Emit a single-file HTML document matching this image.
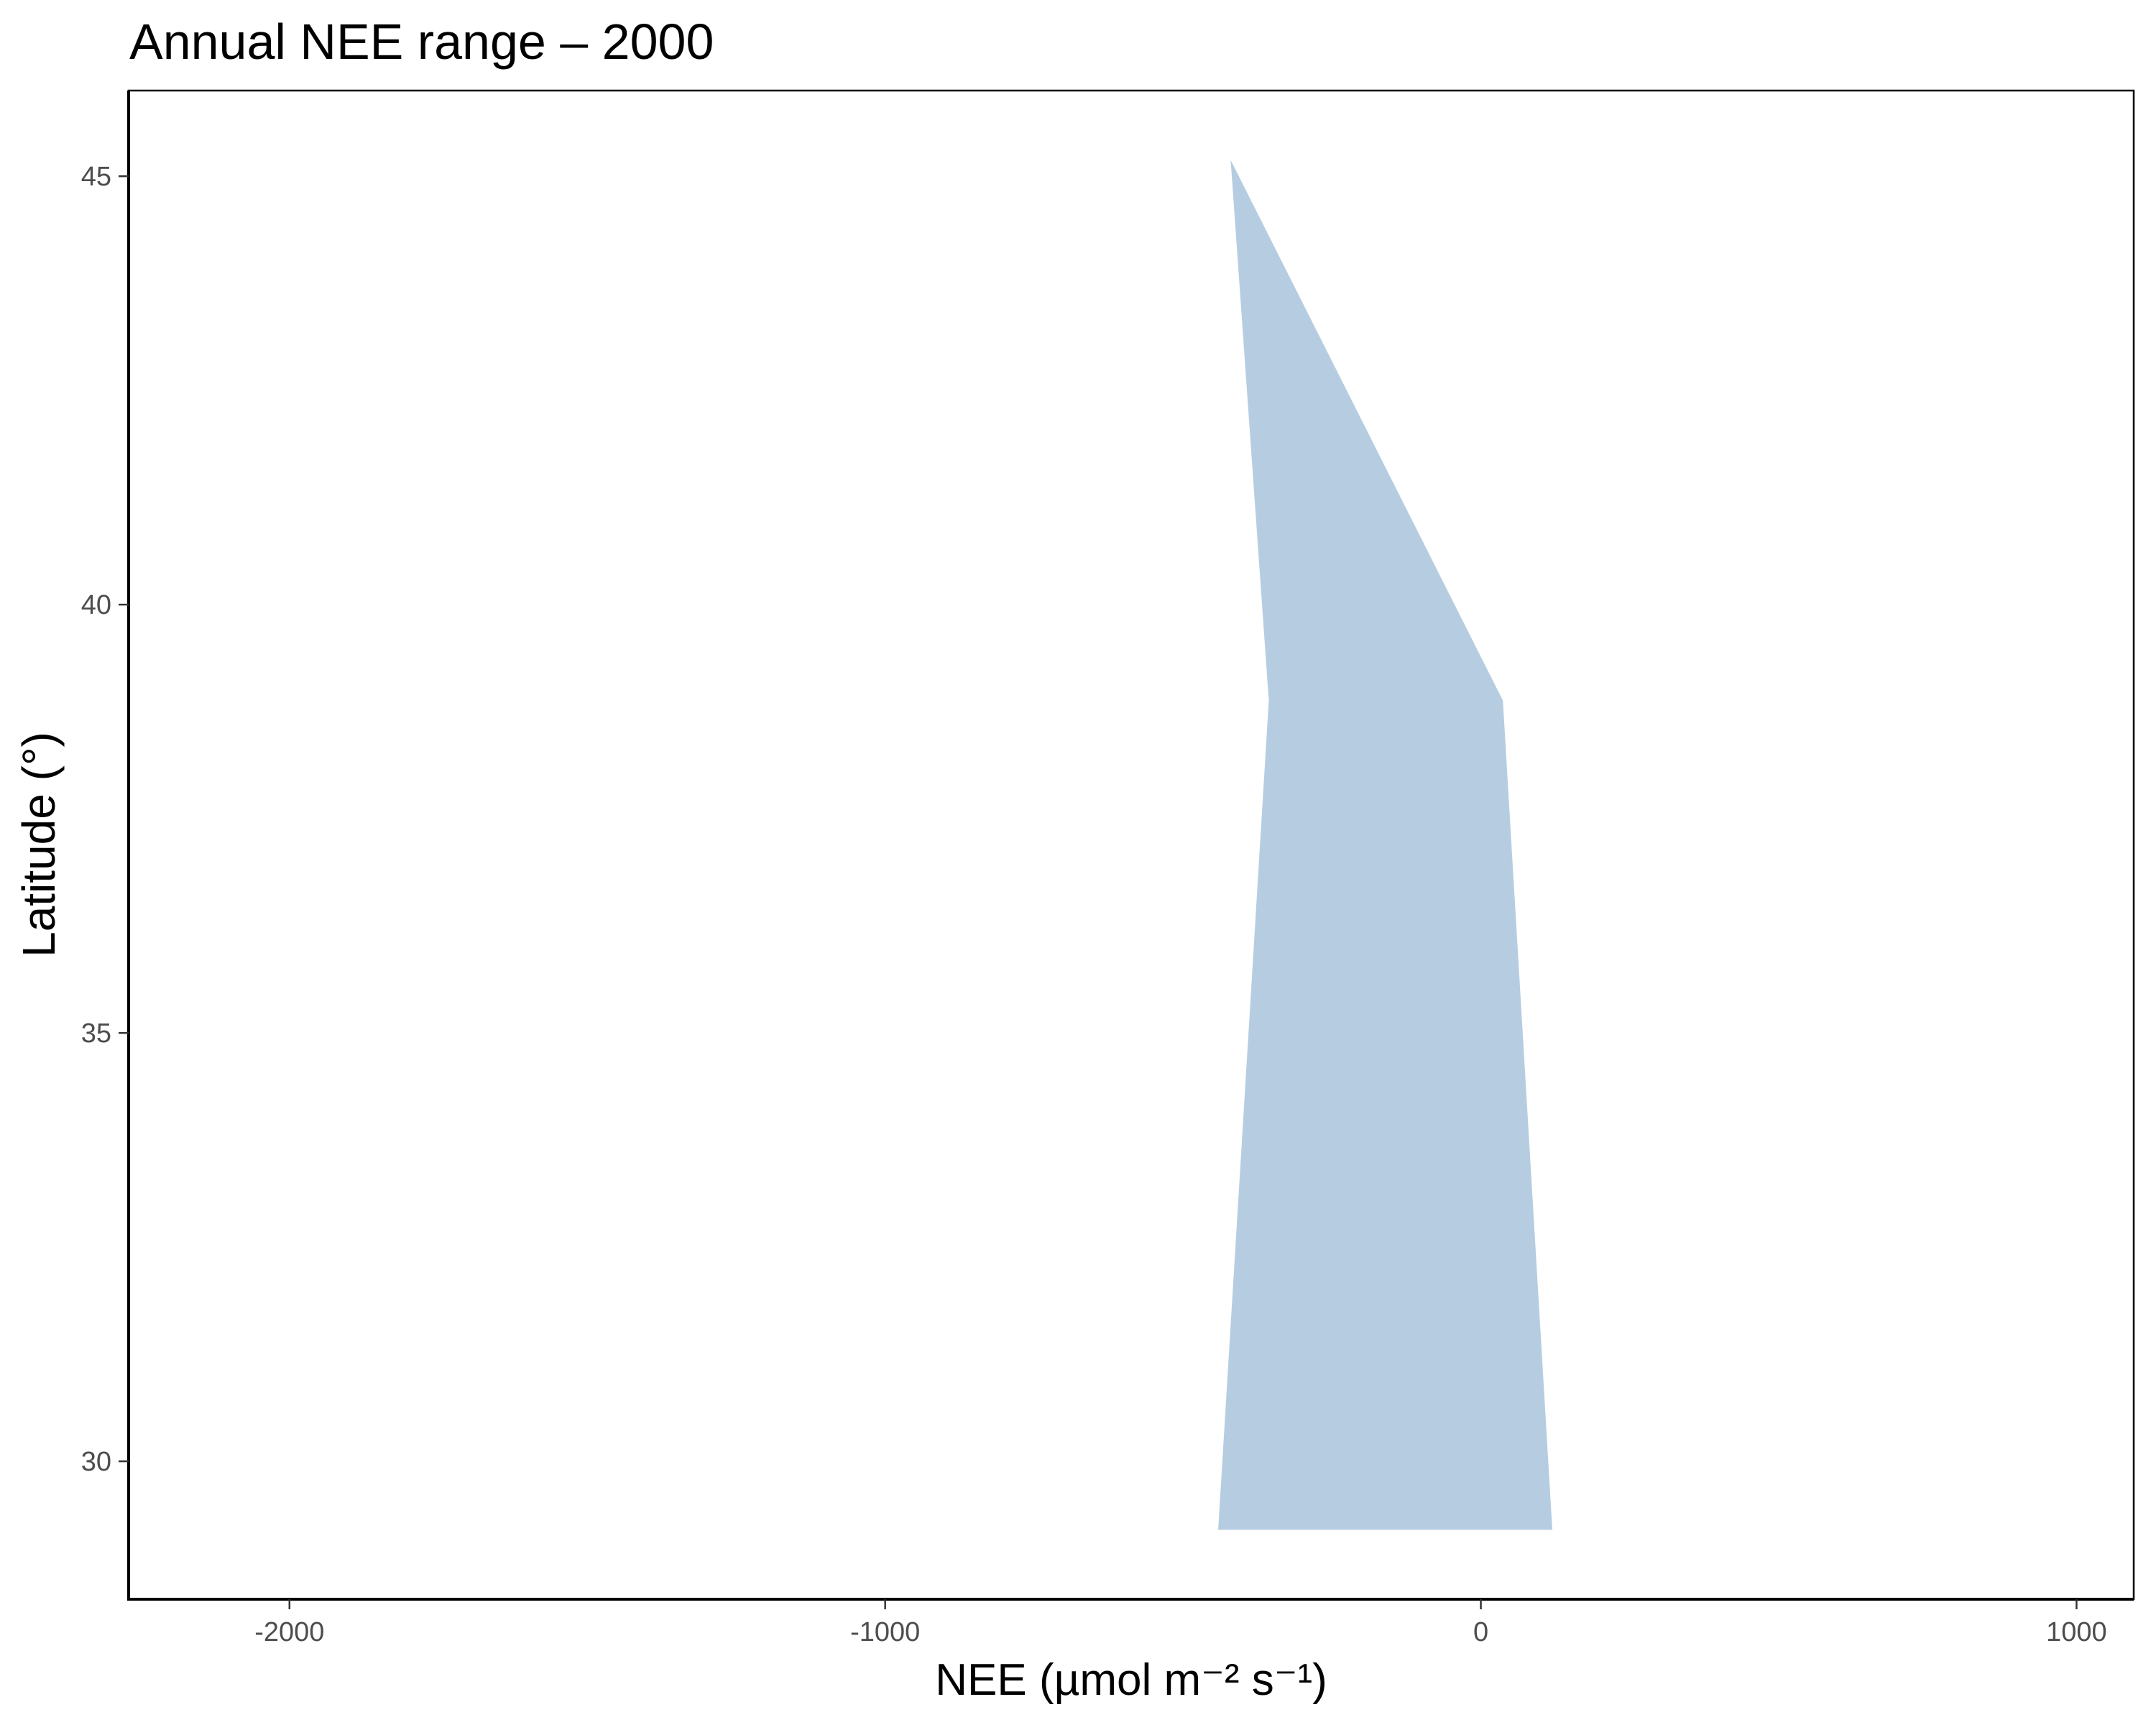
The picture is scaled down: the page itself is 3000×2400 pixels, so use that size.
<!DOCTYPE html>
<html><head><meta charset="utf-8"><style>
html,body{margin:0;padding:0;background:#fff;}
svg{display:block;font-family:"Liberation Sans",Arial,sans-serif;}
</style></head><body>
<svg id="chart" width="3000" height="2400">
<text x="180" y="82" font-size="70" fill="#000">Annual NEE range – 2000</text>
<rect x="179" y="126" width="2790" height="2099" fill="none" stroke="#000" stroke-width="2.5"/>
<g id="marks"></g>
<line x1="179" y1="126" x2="179" y2="2226" stroke="#000" stroke-width="4"/>
<line x1="177" y1="2225" x2="2969" y2="2225" stroke="#000" stroke-width="4"/>
<g id="xticks"></g><g id="yticks"></g>
<text x="1574" y="2358" font-size="62" text-anchor="middle" fill="#000">NEE (µmol m⁻² s⁻¹)</text>
<text transform="translate(76,1175) rotate(-90)" font-size="64" text-anchor="middle" fill="#000">Latitude (°)</text>
</svg>
<script>
const latitudes = [45.19, 38.88, 29.2];
const neeMin = [-420, -356, -441];
const neeMax = [-420, 37, 120];
const xTickValues = [-2000, -1000, 0, 1000];
const xTickLabels = ["-2000", "-1000", "0", "1000"];
const yTickValues = [30, 35, 40, 45];
const yTickLabels = ["30", "35", "40", "45"];

const X0 = 179, X1 = 2969, Y0 = 126, Y1 = 2225;
const xDom = [-2270, 1096], yDom = [28.39, 46.0];
function xs(v){ return X0 + (v - xDom[0]) / (xDom[1] - xDom[0]) * (X1 - X0); }
function ys(v){ return Y1 - (v - yDom[0]) / (yDom[1] - yDom[0]) * (Y1 - Y0); }
const NS = "http://www.w3.org/2000/svg";

const pts = [];
for (let i = 0; i < latitudes.length; i++) pts.push(xs(neeMax[i]) + "," + ys(latitudes[i]));
for (let i = latitudes.length - 1; i >= 0; i--) pts.push(xs(neeMin[i]) + "," + ys(latitudes[i]));
const poly = document.createElementNS(NS, "polygon");
poly.setAttribute("points", pts.join(" "));
poly.setAttribute("fill", "#b6cde1");


document.getElementById("marks").appendChild(poly);

const xg = document.getElementById("xticks");
xTickValues.forEach((v, i) => {
  const x = xs(v);
  const l = document.createElementNS(NS, "line");
  l.setAttribute("x1", x); l.setAttribute("x2", x);
  l.setAttribute("y1", Y1); l.setAttribute("y2", Y1 + 14);
  l.setAttribute("stroke", "#333"); l.setAttribute("stroke-width", "2.5");
  
  
  xg.appendChild(l);
  const t = document.createElementNS(NS, "text");
  t.setAttribute("x", x); t.setAttribute("y", Y1 + 58);
  t.setAttribute("font-size", "38"); t.setAttribute("fill", "#4d4d4d");
  t.setAttribute("text-anchor", "middle");
  t.textContent = xTickLabels[i];
  
  
  xg.appendChild(t);
});
const yg = document.getElementById("yticks");
yTickValues.forEach((v, i) => {
  const y = ys(v);
  const l = document.createElementNS(NS, "line");
  l.setAttribute("x1", X0 - 14); l.setAttribute("x2", X0);
  l.setAttribute("y1", y); l.setAttribute("y2", y);
  l.setAttribute("stroke", "#333"); l.setAttribute("stroke-width", "2.5");
  
  
  yg.appendChild(l);
  const t = document.createElementNS(NS, "text");
  t.setAttribute("x", X0 - 24); t.setAttribute("y", y + 13);
  t.setAttribute("font-size", "38"); t.setAttribute("fill", "#4d4d4d");
  t.setAttribute("text-anchor", "end");
  t.textContent = yTickLabels[i];
  
  
  yg.appendChild(t);
});
</script>
</body></html>
